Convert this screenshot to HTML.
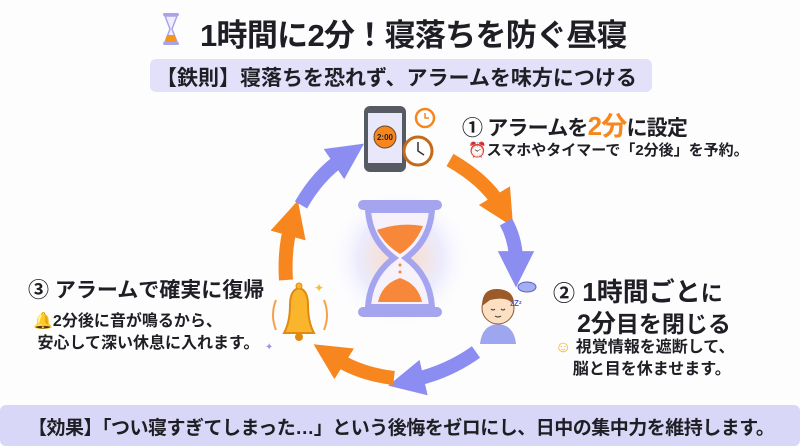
<!DOCTYPE html>
<html><head><meta charset="utf-8"><style>
html,body{margin:0;padding:0;}
body{width:800px;height:446px;position:relative;overflow:hidden;background:#fdfdfe;font-family:"Liberation Sans","Noto Sans CJK JP",sans-serif;color:#1e1e24;}
.t{position:absolute;white-space:nowrap;font-weight:bold;}
</style></head><body>
<svg width="800" height="446" style="position:absolute;left:0;top:0">
<defs>
<marker id="mo" viewBox="0 0 10 10" refX="3" refY="5" markerWidth="2.6" markerHeight="2.6" orient="auto"><path d="M0,0L10,5L0,10z" fill="#f7861f"/></marker>
<marker id="mb" viewBox="0 0 10 10" refX="3" refY="5" markerWidth="2.6" markerHeight="2.6" orient="auto"><path d="M0,0L10,5L0,10z" fill="#8b8df0"/></marker>
<radialGradient id="glow"><stop offset="0" stop-color="#fbd9c0"/><stop offset="0.6" stop-color="#ecebfd"/><stop offset="1" stop-color="#fdfdfe" stop-opacity="0"/></radialGradient>
</defs>
<rect x="163" y="13" width="16" height="3" rx="1.5" fill="#a9a4e8"/>
<rect x="163" y="42" width="16" height="3" rx="1.5" fill="#a9a4e8"/>
<path d="M165,16 L177,16 L172,29 L177,42 L165,42 L170,29Z" fill="#f0eefc" stroke="#a9a4e8" stroke-width="1.5"/>
<path d="M167,35 L175,35 L177,42 L165,42Z" fill="#f7941f"/>
<rect x="150" y="59" width="502" height="33" rx="6" fill="#e3e1fa"/>
<rect x="0" y="405" width="800" height="41" rx="6" fill="#d8d7f7"/>
<g fill="none" stroke-width="14" stroke-linecap="butt">
<path d="M450,160 Q485,180 500,205" stroke="#f7861f" marker-end="url(#mo)"/>
<path d="M506,222 Q516,240 516,262" stroke="#8b8df0" marker-end="url(#mb)"/>
<path d="M476,352 Q448,372 413,380" stroke="#8b8df0" marker-end="url(#mb)"/>
<path d="M394,378 Q360,374 335,358" stroke="#f7861f" marker-end="url(#mo)"/>
<path d="M286,280 Q284,250 291,225" stroke="#f7861f" marker-end="url(#mo)"/>
<path d="M301,205 Q318,175 343,158" stroke="#8b8df0" marker-end="url(#mb)"/>
</g>
<circle cx="400" cy="258" r="70" fill="url(#glow)"/>
<rect x="358" y="200" width="84" height="10" rx="5" fill="#a4a4ef"/>
<rect x="358" y="307" width="84" height="10" rx="5" fill="#a4a4ef"/>
<path d="M368,210 L432,210 Q430,240 406,258 Q430,276 432,307 L368,307 Q370,276 394,258 Q370,240 368,210Z" fill="#f6f1fb" stroke="#a4a4ef" stroke-width="6"/>
<path d="M377,230 Q400,222 423,226 Q415,245 400,254 Q385,245 377,230Z" fill="#f7883a"/>
<path d="M378,302 Q382,284 400,278 Q418,284 422,302Z" fill="#f7883a"/>
<circle cx="400" cy="265" r="1.5" fill="#f7883a"/><circle cx="400" cy="272" r="1.5" fill="#f7883a"/>
<rect x="364" y="106" width="42" height="66" rx="6" fill="#555a63"/>
<rect x="368" y="113" width="34" height="50" fill="#e9e8fa"/>
<circle cx="385" cy="137" r="11" fill="#f7861f" stroke="#6b4a2a" stroke-width="1"/>
<text x="385" y="140" font-size="8" text-anchor="middle" font-family="Liberation Sans" font-weight="bold" fill="#222">2:00</text>
<circle cx="418" cy="151" r="14" fill="#fff" stroke="#c46a1a" stroke-width="3"/>
<path d="M418,142 L418,151 L424,155" stroke="#333" stroke-width="1.5" fill="none"/>
<circle cx="425" cy="118" r="9" fill="#fff" stroke="#f7861f" stroke-width="2.5"/>
<path d="M425,113 L425,118 L429,118" stroke="#f7861f" stroke-width="1.5" fill="none"/>
<path d="M284,333 Q290,322 290,305 Q290,290 299,288 Q308,290 308,305 Q308,322 314,333Z" fill="#fbb52d" stroke="#e08a10" stroke-width="2"/>
<circle cx="299" cy="286" r="3" fill="#fbb52d" stroke="#e08a10"/>
<circle cx="299" cy="337" r="4" fill="#e08a10"/>
<path d="M276,300 Q270,315 276,330 M324,300 Q330,315 324,330" stroke="#f7a04a" stroke-width="2" fill="none"/>
<text x="314" y="292" font-size="12" fill="#f5c030">✦</text>
<text x="265" y="350" font-size="10" fill="#9a95e8">✦</text>
<path d="M480,344 Q482,325 498,324 Q514,325 516,344Z" fill="#9ea6ef"/>
<circle cx="498" cy="308" r="16" fill="#fde0c4" stroke="#8a5a30" stroke-width="1"/>
<path d="M482,306 Q482,288 498,289 Q514,290 514,304 Q506,296 490,300 Z" fill="#9a5a2a"/>
<path d="M491,309 q2,2 4,0 M501,309 q2,2 4,0 M495,316 q3,2 6,0" stroke="#333" fill="none"/>
<ellipse cx="527" cy="287" rx="9" ry="5" fill="#a5aef0" stroke="#5a5ec0"/>
<text x="510" y="306" font-size="8" fill="#5a5ec0" font-weight="bold">zZᶻ</text>
</svg>

<div class="t" style="left:200px;top:10px;font-size:31px;letter-spacing:-0.7px;">1時間に2分！寝落ちを防ぐ昼寝</div>
<div class="t" style="left:156px;top:62px;font-size:21px;">【鉄則】寝落ちを恐れず、アラームを味方につける</div>

<div class="t" style="left:462px;top:106px;font-size:21px;letter-spacing:-0.8px;">① アラームを<span style="color:#f7861f;font-size:26px;">2分</span>に設定</div>
<div class="t" style="left:468px;top:139px;font-size:15px;">⏰スマホやタイマーで「2分後」を予約。</div>

<div class="t" style="left:28px;top:274px;font-size:21px;">③ アラームで確実に復帰</div>
<div class="t" style="left:33px;top:311px;font-size:16px;line-height:22px;"><span style="color:#f7a020">🔔</span>2分後に音が鳴るから、<br>&nbsp;安心して深い休息に入れます。</div>

<div class="t" style="left:553px;top:272px;font-size:26px;"><span style="font-size:22px">②</span> 1時間ごと<span style="font-size:22px">に</span></div>
<div class="t" style="left:577px;top:304px;font-size:25px;">2分<span style="font-size:23px">目を閉じる</span></div>
<div class="t" style="left:555px;top:337px;font-size:16px;line-height:22px;"><span style="color:#f5b020">☺</span> 視覚情報を遮断して、<br>&nbsp;&nbsp;&nbsp;&nbsp;脳と目を休ませます。</div>

<div class="t" style="left:28px;top:413px;font-size:19px;letter-spacing:-0.5px;">【効果】「つい寝すぎてしまった…」という後悔をゼロにし、日中の集中力を維持します。</div>
</body></html>
